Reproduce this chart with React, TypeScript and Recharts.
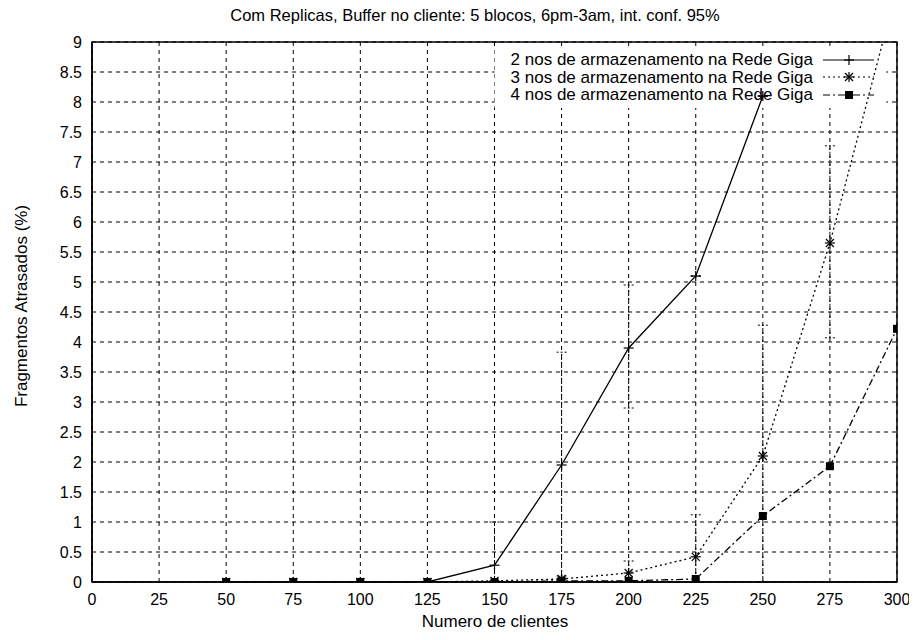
import React from "react";
import { LineChart, Line, XAxis, YAxis, CartesianGrid, ErrorBar, ReferenceArea } from "recharts";

const clientes = [50, 75, 100, 125, 150, 175, 200, 225, 250, 275, 300];
const nos2 = [0, 0, 0, 0, 0.28, 1.95, 3.9, 5.1, 8.1, null, null];
const nos3 = [0, 0, 0, 0, 0.02, 0.05, 0.15, 0.42, 2.1, 5.65, 9.9];
const nos4 = [0, 0, 0, 0, 0, 0.02, 0.02, 0.05, 1.1, 1.93, 4.22];
const err2: any[] = [0, 0, 0, 0, [0.28, 0.72], [1.85, 1.88], [1.0, 1.05], [0, 0], [0, 0], null, null];
const err3: any[] = [0, 0, 0, 0, 0, 0, [0.15, 0.2], [0.42, 0.7], [2.1, 2.18], [1.58, 1.62], 0];
const xTicks = [0, 25, 50, 75, 100, 125, 150, 175, 200, 225, 250, 275, 300];
const yTicks = [0, 0.5, 1, 1.5, 2, 2.5, 3, 3.5, 4, 4.5, 5, 5.5, 6, 6.5, 7, 7.5, 8, 8.5, 9];
const seriesNames = [
  "2 nos de armazenamento na Rede Giga",
  "3 nos de armazenamento na Rede Giga",
  "4 nos de armazenamento na Rede Giga",
];
const title = "Com Replicas, Buffer no cliente: 5 blocos, 6pm-3am, int. conf. 95%";
const xLabel = "Numero de clientes";
const yLabel = "Fragmentos Atrasados (%)";

const data = clientes.map((c, i) => ({
  x: c,
  s2: nos2[i],
  s3: nos3[i],
  s4: nos4[i],
  e2: err2[i],
  e3: err3[i],
}));

const FONT = "'Liberation Sans', Arial, sans-serif";

const PlusDot = (p: any) => {
  const { cx, cy, key } = p;
  if (cy == null || cx == null) return <g key={key} />;
  return (
    <g key={key} stroke="#000" strokeWidth={1.2}>
      <line x1={cx - 5} y1={cy} x2={cx + 5} y2={cy} />
      <line x1={cx} y1={cy - 5} x2={cx} y2={cy + 5} />
    </g>
  );
};
const StarDot = (p: any) => {
  const { cx, cy, key } = p;
  if (cy == null || cx == null) return <g key={key} />;
  return (
    <g key={key} stroke="#000" strokeWidth={1.2}>
      <line x1={cx - 5} y1={cy} x2={cx + 5} y2={cy} />
      <line x1={cx} y1={cy - 5} x2={cx} y2={cy + 5} />
      <line x1={cx - 4} y1={cy - 4} x2={cx + 4} y2={cy + 4} />
      <line x1={cx - 4} y1={cy + 4} x2={cx + 4} y2={cy - 4} />
    </g>
  );
};
const SquareDot = (p: any) => {
  const { cx, cy, key } = p;
  if (cy == null || cx == null) return <g key={key} />;
  return <rect key={key} x={cx - 4} y={cy - 4} width={8} height={8} fill="#000" />;
};

const dashes = ["", "2 3", "7 3 2 3"];
const markers = [PlusDot, StarDot, SquareDot];

const LegendBox = () => (
  <div
    style={{
      position: "absolute",
      top: 43,
      right: 42,
      fontFamily: FONT,
      fontSize: 17,
      color: "#000",
      lineHeight: "17.5px",
    }}
  >
    {seriesNames.map((n, i) => {
      const M = markers[i];
      return (
        <div key={n} style={{ display: "flex", alignItems: "center", justifyContent: "flex-end", whiteSpace: "nowrap" }}>
          <span>{n}</span>
          <svg width={53} height={14} style={{ marginLeft: 9 }}>
            <line x1={1} y1={7} x2={52} y2={7} stroke="#000" strokeWidth={1.2} strokeDasharray={dashes[i]} />
            <M cx={27} cy={7} />
          </svg>
        </div>
      );
    })}
  </div>
);

export default function App() {
  return (
    <div style={{ position: "relative", width: 909, height: 632, background: "#fff" }}>
      <div
        style={{
          position: "absolute",
          top: 7,
          left: 467,
          transform: "translate(-50%, -50%)",
          whiteSpace: "nowrap",
          fontFamily: FONT,
          fontSize: 16.5,
          lineHeight: "18px",
        }}
      >
        {title}
      </div>
      <LineChart
        width={909}
        height={632}
        data={data}
        margin={{ top: 34, right: 20, bottom: 28, left: 24 }}
      >
        <CartesianGrid
          xAxisId="b"
          yAxisId="l"
          stroke="#000"
          strokeDasharray="4 4"
          strokeWidth={1}
          horizontalValues={yTicks}
          verticalValues={xTicks}
        />
        <XAxis
          xAxisId="b"
          dataKey="x"
          type="number"
          domain={[0, 300]}
          ticks={xTicks}
          allowDataOverflow
          stroke="#000"
          strokeWidth={1.5}
          tickLine={false}
          tick={{ fill: "#000", fontSize: 16, fontFamily: FONT }}
          tickMargin={6}
          height={30}
        />
        <YAxis
          yAxisId="l"
          type="number"
          domain={[0, 9]}
          ticks={yTicks}
          allowDataOverflow
          stroke="#000"
          strokeWidth={1.5}
          tickLine={false}
          interval={0}
          tick={{ fill: "#000", fontSize: 16, fontFamily: FONT }}
          tickMargin={4}
          width={60}
        />
        <ReferenceArea
          xAxisId="b"
          yAxisId="l"
          x1={150}
          x2={296}
          y1={7.9}
          y2={8.87}
          fill="#fff"
          fillOpacity={1}
          stroke="none"
          ifOverflow="visible"
        />
        <ReferenceArea
          xAxisId="b"
          yAxisId="l"
          x1={0}
          x2={300}
          y1={0}
          y2={9}
          fill="none"
          fillOpacity={0}
          stroke="#000"
          strokeWidth={1.5}
          ifOverflow="visible"
        />
        <Line
          xAxisId="b"
          yAxisId="l"
          dataKey="s2"
          name={seriesNames[0]}
          stroke="#000"
          strokeWidth={1.3}
          dot={PlusDot}
          isAnimationActive={false}
          connectNulls={false}
        >
          <ErrorBar dataKey="e2" width={5} stroke="#000" strokeWidth={1} strokeDasharray="2 2" direction="y" />
        </Line>
        <Line
          xAxisId="b"
          yAxisId="l"
          dataKey="s3"
          name={seriesNames[1]}
          stroke="#000"
          strokeWidth={1.3}
          strokeDasharray="2 3"
          dot={StarDot}
          isAnimationActive={false}
        >
          <ErrorBar dataKey="e3" width={5} stroke="#000" strokeWidth={1} strokeDasharray="2 2" direction="y" />
        </Line>
        <Line
          xAxisId="b"
          yAxisId="l"
          dataKey="s4"
          name={seriesNames[2]}
          stroke="#000"
          strokeWidth={1.3}
          strokeDasharray="7 3 2 3"
          dot={SquareDot}
          isAnimationActive={false}
        />
      </LineChart>
      <LegendBox />
      <div
        style={{
          position: "absolute",
          top: 614,
          left: 487,
          transform: "translate(-50%, -50%)",
          whiteSpace: "nowrap",
          fontFamily: FONT,
          fontSize: 17,
          lineHeight: "18px",
        }}
      >
        {xLabel}
      </div>
      <div
        style={{
          position: "absolute",
          top: 298,
          left: 14,
          transform: "translate(-50%, -50%) rotate(-90deg)",
          whiteSpace: "nowrap",
          fontFamily: FONT,
          fontSize: 17,
          lineHeight: "18px",
        }}
      >
        {yLabel}
      </div>
    </div>
  );
}
